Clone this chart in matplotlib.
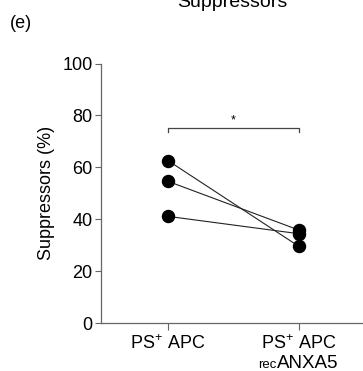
import matplotlib
matplotlib.use("Agg")
import matplotlib.pyplot as plt

plt.rcParams['font.family'] = ['Liberation Sans', 'DejaVu Sans']
plt.rcParams['mathtext.fontset'] = 'custom'
plt.rcParams['mathtext.rm'] = 'Liberation Sans'
plt.rcParams['mathtext.it'] = 'Liberation Sans'

categories = ["PS$^{+}$ APC", "PS$^{+}$ APC"]
second_line_prefix = "rec"
second_line = "ANXA5"
before = [62.6, 54.6, 41.1]
after = [29.5, 35.8, 34.4]
yticks = [0, 20, 40, 60, 80, 100]
sig_level = 75.3

fig = plt.figure(figsize=(3.63, 3.71), dpi=100)
ax = fig.add_axes([101/363, 1-323/371, 261/363, (323-63.5)/371])

for b, a in zip(before, after):
    ax.plot([0, 1], [b, a], color='#222222', lw=0.8, zorder=2)
ax.scatter([0]*len(before), before, s=75, color='black', zorder=3)
ax.scatter([1]*len(after), after, s=75, color='black', zorder=3)

# significance bar
ax.plot([0, 0, 1, 1], [sig_level-1.6, sig_level, sig_level, sig_level-1.6], color='#444444', lw=0.9)
ax.text(0.5, sig_level+0.3, '*', ha='center', va='bottom', fontsize=9)

ax.set_xlim(-0.511, 1.481)
ax.set_ylim(0, 100)
ax.set_yticks(yticks)
ax.set_xticks([0, 1])
ax.set_xticklabels(categories, fontsize=13)
ax.tick_params(axis='y', labelsize=13, length=4, width=0.8, color='#666666', pad=2)
ax.tick_params(axis='x', length=5, width=0.8, color='#666666', pad=3)
for s in ['top', 'right']:
    ax.spines[s].set_visible(False)
for s in ['left', 'bottom']:
    ax.spines[s].set_color('#666666')
    ax.spines[s].set_linewidth(0.9)
ax.set_ylabel('Suppressors (%)', fontsize=13, labelpad=5)

# second line of second category label
ax.annotate(second_line_prefix, xy=(1, 0), xycoords=('data', 'axes fraction'),
            xytext=(-22, -45), textcoords='offset pixels', ha='right', va='baseline',
            fontsize=9.5, annotation_clip=False)
ax.annotate(second_line, xy=(1, 0), xycoords=('data', 'axes fraction'),
            xytext=(-22, -45), textcoords='offset pixels', ha='left', va='baseline',
            fontsize=13.5, annotation_clip=False)

fig.text(232/363, 1-7/371, 'Suppressors', ha='center', va='baseline', fontsize=14)
fig.text(10/363, 1-23/371, '(e)', ha='left', va='center', fontsize=13)

fig.savefig('out.png', dpi=100)
